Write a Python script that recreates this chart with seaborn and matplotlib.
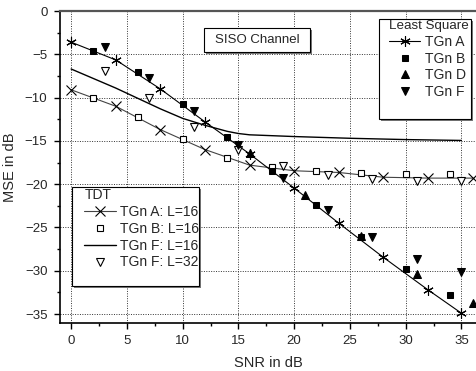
import numpy as np
import pandas as pd
import matplotlib
matplotlib.use('Agg')
import matplotlib.pyplot as plt
import seaborn as sns
from matplotlib.patches import Rectangle

# Least Square estimates
snr_ls_a = [0, 4, 8, 12, 16, 20, 24, 28, 32, 35]
mse_ls_a = [-3.6, -5.65, -9.0, -12.8, -16.5, -20.45, -24.5, -28.45, -32.2, -34.9]
snr_ls_b = [2, 6, 10, 14, 18, 22, 26, 30, 34]
mse_ls_b = [-4.6, -7.1, -10.7, -14.5, -18.5, -22.4, -26.1, -29.75, -32.85]
snr_ls_d = [16, 21, 26, 31, 36]
mse_ls_d = [-16.4, -21.3, -26.0, -30.4, -33.7]
snr_ls_f = [3, 7, 11, 15, 19, 23, 27, 31, 35]
mse_ls_f = [-4.2, -7.7, -11.5, -15.5, -19.3, -23.0, -26.1, -28.6, -30.15]

# TDT estimates
snr_tdt_a = [0, 4, 8, 12, 16, 20, 24, 28, 32, 36]
mse_tdt_a = [-9.1, -11.0, -13.7, -16.0, -17.8, -18.45, -18.65, -19.2, -19.3, -19.3]
snr_tdt_b = [2, 6, 10, 14, 18, 22, 26, 30, 34]
mse_tdt_b = [-10.0, -12.3, -14.8, -17.0, -18.0, -18.5, -18.7, -18.8, -18.8]
snr_tdt_f16 = [0, 2, 4, 6, 8, 10, 12, 14, 15, 16, 18, 20, 25, 30, 35]
mse_tdt_f16 = [-6.7, -7.8, -8.9, -10.1, -11.3, -12.4, -13.2, -13.9, -14.15, -14.3,
               -14.4, -14.5, -14.7, -14.85, -14.95]
snr_tdt_f32 = [3, 7, 11, 15, 19, 23, 27, 31, 35]
mse_tdt_f32 = [-6.9, -10.0, -13.4, -16.0, -17.9, -18.9, -19.4, -19.6, -19.6]

sns.set_theme(style='ticks')
plt.rcParams['font.family'] = ['Liberation Sans', 'DejaVu Sans']
plt.rcParams['axes.linewidth'] = 1.2

fig = plt.figure(figsize=(4.77, 3.71), dpi=100)
ax = fig.add_axes([60/477, (371-322.7)/371, 417/477, 311.7/371])

ax.grid(True, which='major', linestyle=(0, (1, 1.5)), color='#333333', linewidth=0.7)

# TDT curves
sns.lineplot(x=snr_tdt_f16, y=mse_tdt_f16, color='black', linewidth=1.0, ax=ax, sort=False)
h_tdt_f16 = ax.lines[-1]
sns.lineplot(x=snr_tdt_a, y=mse_tdt_a, color='#444444', linewidth=0.8, marker='x',
             markersize=7, markeredgewidth=0.8, markeredgecolor='black', ax=ax, sort=False)
h_tdt_a = ax.lines[-1]
sns.lineplot(x=snr_tdt_b, y=mse_tdt_b, linestyle='none', marker='s', markersize=4.3,
             markerfacecolor='white', markeredgecolor='black', markeredgewidth=0.8, ax=ax)
h_tdt_b = ax.lines[-1]
sns.lineplot(x=snr_tdt_f32, y=mse_tdt_f32, linestyle='none', marker='v', markersize=5.5,
             markerfacecolor='white', markeredgecolor='black', markeredgewidth=0.8, ax=ax)
h_tdt_f32 = ax.lines[-1]

# Least Square curves
sns.lineplot(x=snr_ls_a, y=mse_ls_a, color='black', linewidth=0.8, marker=(6, 2, 0),
             markersize=7.5, markeredgewidth=0.8, markeredgecolor='black', ax=ax, sort=False)
h_ls_a = ax.lines[-1]
sns.lineplot(x=snr_ls_b, y=mse_ls_b, linestyle='none', marker='s', markersize=4.3,
             color='black', markeredgecolor='black', ax=ax)
h_ls_b = ax.lines[-1]
sns.lineplot(x=snr_ls_d, y=mse_ls_d, linestyle='none', marker='^', markersize=5.5,
             color='black', markeredgecolor='black', ax=ax)
h_ls_d = ax.lines[-1]
sns.lineplot(x=snr_ls_f, y=mse_ls_f, linestyle='none', marker='v', markersize=5.5,
             color='black', markeredgecolor='black', ax=ax)
h_ls_f = ax.lines[-1]
h_ls_d.set_clip_on(False)

ax.set_xlim(-1, 36.4)
ax.set_ylim(-36, 0)
ax.set_xticks([0, 5, 10, 15, 20, 25, 30, 35])
ax.set_yticks([0, -5, -10, -15, -20, -25, -30, -35])
ax.set_xticks(np.arange(2.5, 36, 5), minor=True)
ax.set_yticks(np.arange(-32.5, 0, 5), minor=True)
ax.tick_params(which='major', direction='out', length=4, width=1, labelsize=9.5, pad=5, color='black')
ax.tick_params(which='minor', direction='out', length=2.5, width=1, color='black')
ax.spines['right'].set_visible(False)
ax.spines['top'].set_color('#555555')
ax.spines['top'].set_linewidth(1.6)
for s in ('left', 'bottom'):
    ax.spines[s].set_color('black')
ax.set_xlabel('SNR in dB', fontsize=10.5, labelpad=6)
ax.set_ylabel('MSE in dB', fontsize=10.5, labelpad=6)


def box(x0, y0, x1, y1):
    sh = 2 / 417
    shy = 2 / 311.7
    ax.add_patch(Rectangle((x0 + sh, y0 - shy), x1 - x0, y1 - y0, transform=ax.transAxes,
                           facecolor='#777777', edgecolor='none', zorder=5, clip_on=False))
    ax.add_patch(Rectangle((x0, y0), x1 - x0, y1 - y0, transform=ax.transAxes,
                           facecolor='white', edgecolor='black', linewidth=0.8, zorder=6,
                           clip_on=False))


# SISO box
box(0.3453, 0.8675, 0.5995, 0.9445)
ax.text((0.3453 + 0.5995) / 2, (0.8675 + 0.9445) / 2, 'SISO Channel', transform=ax.transAxes,
        ha='center', va='center', fontsize=9.5, zorder=7)

# Least Square legend
box(0.7657, 0.6535, 0.9856, 0.9743)
leg1 = ax.legend([h_ls_a, h_ls_b, h_ls_d, h_ls_f], ['TGn A', 'TGn B', 'TGn D', 'TGn F'],
                 title='Least Square', title_fontsize=9.6, fontsize=10, frameon=False,
                 loc='upper left', bbox_to_anchor=(0.7657 + 10/417, 0.9743 - 1/311.7),
                 borderpad=0, borderaxespad=0, handlelength=2.2, handletextpad=0.4,
                 labelspacing=0.2, numpoints=1, alignment='left')
leg1.set_zorder(8)
ax.add_artist(leg1)

# TDT legend
box(0.0295, 0.1177, 0.3333, 0.4344)
leg2 = ax.legend([h_tdt_a, h_tdt_b, h_tdt_f16, h_tdt_f32],
                 ['TGn A: L=16', 'TGn B: L=16', 'TGn F: L=16', 'TGn F: L=32'],
                 title='TDT', title_fontsize=10, fontsize=10, frameon=False,
                 loc='upper left', bbox_to_anchor=(0.0295 + 12/417, 0.4344 - 1/311.7),
                 borderpad=0, borderaxespad=0, handlelength=2.3, handletextpad=0.3,
                 labelspacing=0.2, numpoints=1, alignment='left')
leg2.set_zorder(8)

fig.savefig('out.png', dpi=100)
